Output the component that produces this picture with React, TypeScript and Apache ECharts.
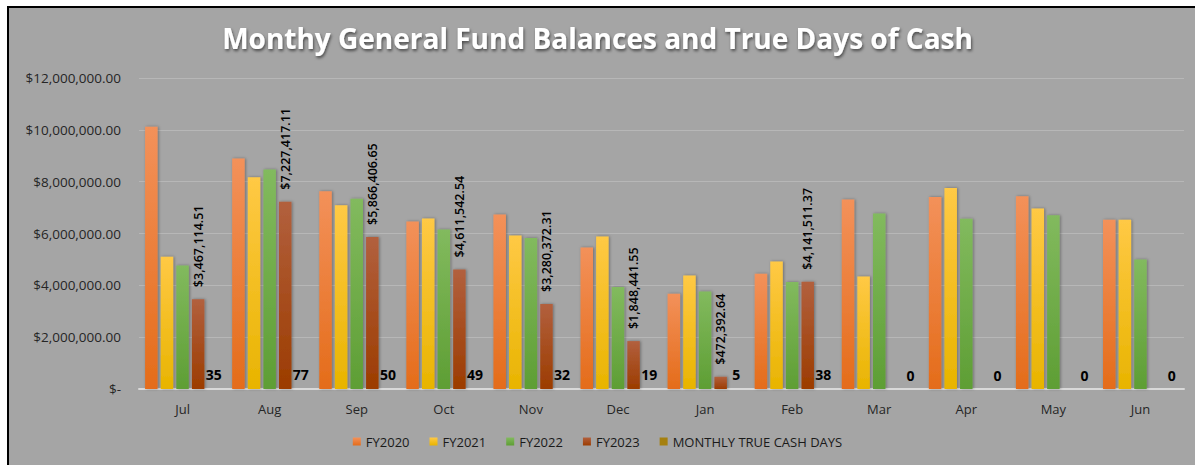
import React, { useEffect, useRef } from "react";
import * as echarts from "echarts";

const months = ["Jul", "Aug", "Sep", "Oct", "Nov", "Dec", "Jan", "Feb", "Mar", "Apr", "May", "Jun"];
const fy2020 = [10120000, 8890000, 7630000, 6460000, 6730000, 5460000, 3680000, 4450000, 7310000, 7410000, 7440000, 6530000];
const fy2021 = [5100000, 8170000, 7090000, 6580000, 5920000, 5880000, 4380000, 4920000, 4340000, 7760000, 6960000, 6530000];
const fy2022 = [4770000, 8470000, 7340000, 6150000, 5830000, 3940000, 3760000, 4130000, 6770000, 6570000, 6700000, 5000000];
const fy2023 = [3467114.51, 7227417.11, 5866406.65, 4611542.54, 3280372.31, 1848441.55, 472392.64, 4141511.37, null, null, null, null];
const cashDays = [35, 77, 50, 49, 32, 19, 5, 38, 0, 0, 0, 0];
const yTicks = { min: 0, max: 12000000, interval: 2000000 };

const FONT = "'Open Sans', 'Noto Sans', sans-serif";

const grad = (top: string, bottom: string) =>
  new echarts.graphic.LinearGradient(0, 0, 0, 1, [
    { offset: 0, color: top },
    { offset: 1, color: bottom },
  ]);

const money = (v: number) =>
  v === 0 ? "$-" : "$" + v.toLocaleString("en-US", { minimumFractionDigits: 2, maximumFractionDigits: 2 });

export default function App() {
  const ref = useRef<HTMLDivElement>(null);
  useEffect(() => {
    if (!ref.current) return;
    const chart = echarts.init(ref.current, null, { renderer: "svg" });
    const shadow = { shadowColor: "rgba(0,0,0,0.35)", shadowBlur: 3, shadowOffsetX: 1, shadowOffsetY: 0 };
    chart.setOption({
      animation: false,
      backgroundColor: "transparent",
      title: {
        text: "Monthy General Fund Balances and True Days of Cash",
        left: "center",
        top: 24,
        padding: [0, 0, 0, 14],
        textStyle: {
          color: "#ffffff",
          fontFamily: FONT,
          fontWeight: "bold",
          fontSize: 28,
          textShadowColor: "rgba(0,0,0,0.55)",
          textShadowBlur: 3,
          textShadowOffsetX: 1,
          textShadowOffsetY: 2,
        },
      },
      legend: {
        bottom: 12,
        left: "center",
        itemWidth: 8,
        itemHeight: 8,
        itemGap: 20,
        icon: "rect",
        padding: [5, 5, 5, 20],
        textStyle: { color: "#1a1a1a", fontFamily: FONT, fontSize: 13 },
        data: ["FY2020", "FY2021", "FY2022", "FY2023", "MONTHLY TRUE CASH DAYS"],
      },
      grid: { left: 139, right: 11, top: 78, bottom: 76 },
      xAxis: {
        type: "category",
        data: months,
        axisTick: { show: false },
        axisLine: { lineStyle: { color: "#d9d9d9", width: 2 } },
        axisLabel: { color: "#262626", fontFamily: FONT, fontSize: 13, margin: 13 },
      },
      yAxis: {
        type: "value",
        ...yTicks,
        axisLine: { show: false },
        axisTick: { show: false },
        splitLine: { lineStyle: { color: "#b7b7b7", width: 1 } },
        axisLabel: { color: "#262626", fontFamily: FONT, fontSize: 13.5, margin: 18, formatter: money },
      },
      series: [
        {
          name: "FY2020",
          type: "bar",
          data: fy2020,
          barGap: "25%",
          barCategoryGap: "14%",
          itemStyle: { color: grad("#f3915a", "#e46c1a"), ...shadow },
        },
        {
          name: "FY2021",
          type: "bar",
          data: fy2021,
          itemStyle: { color: grad("#ffc945", "#e8b400"), ...shadow },
        },
        {
          name: "FY2022",
          type: "bar",
          data: fy2022,
          itemStyle: { color: grad("#82ba5e", "#5e9e34"), ...shadow },
        },
        {
          name: "FY2023",
          type: "bar",
          data: fy2023,
          itemStyle: { color: grad("#b2603e", "#9c3c00"), ...shadow },
          label: {
            show: true,
            position: "top",
            distance: 12,
            rotate: 90,
            align: "left",
            verticalAlign: "middle",
            color: "#000000",
            fontFamily: FONT,
            fontSize: 12.5,
            fontWeight: 600,
            formatter: (p: any) => money(p.value),
          },
        },
        {
          name: "MONTHLY TRUE CASH DAYS",
          type: "bar",
          data: cashDays,
          itemStyle: { color: "#a5800f" },
          label: {
            show: true,
            position: "top",
            distance: 7,
            color: "#000000",
            fontFamily: FONT,
            fontSize: 14,
            fontWeight: "bold",
          },
        },
      ],
    });
    return () => chart.dispose();
  }, []);
  return (
    <div style={{ position: "absolute", left: 0, top: 0, width: 1195, height: 465, background: "#ffffff", overflow: "hidden" }}>
      <div
        style={{
          position: "absolute",
          left: 7,
          top: 6,
          width: 1188,
          height: 459,
          background: "#a5a5a5",
          borderTop: "2px solid #000",
          borderLeft: "2px solid #000",
          boxSizing: "border-box",
        }}
      />
      <div ref={ref} style={{ position: "absolute", left: 0, top: 0, width: 1195, height: 465 }} />
    </div>
  );
}
